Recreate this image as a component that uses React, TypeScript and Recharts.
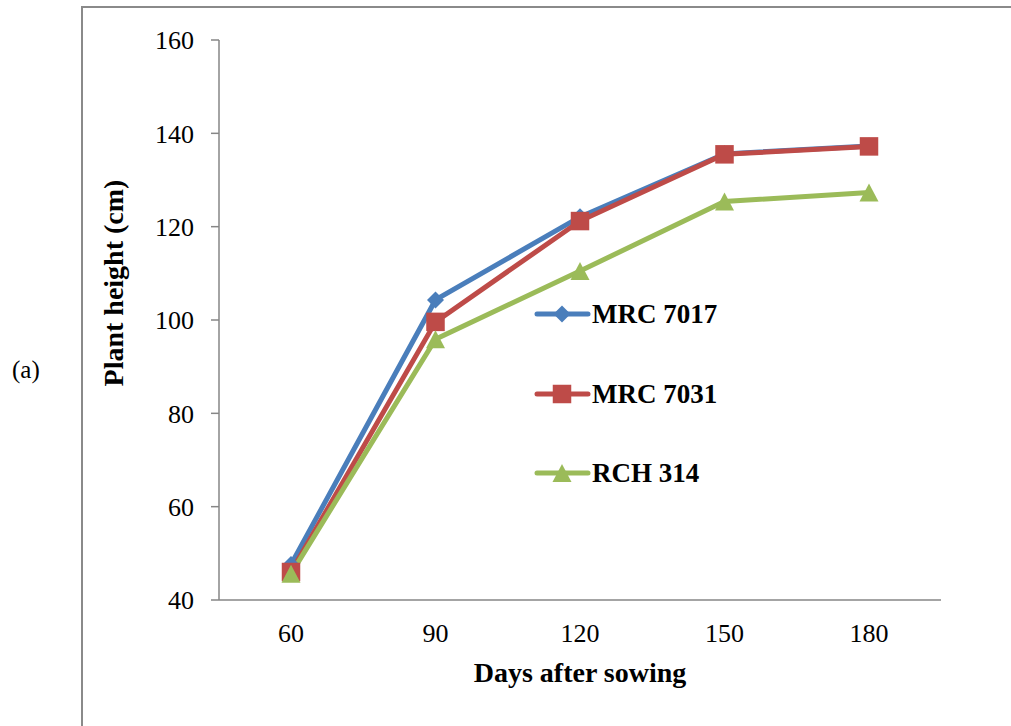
import React from 'react';
import { LineChart, Line, XAxis, YAxis, Legend, Label } from 'recharts';

// Plant height (cm) of three cotton hybrids by days after sowing
const categories = ['60', '90', '120', '150', '180'];
const mrc7017 = [47.6, 104.3, 122.1, 135.6, 137.3];
const mrc7031 = [46.0, 99.6, 121.2, 135.5, 137.2];
const rch314 = [45.6, 95.9, 110.5, 125.4, 127.3];
const yTicks = [40, 60, 80, 100, 120, 140, 160];

const seriesNames = ['MRC 7017', 'MRC 7031', 'RCH 314'];
const seriesKeys = ['mrc7017', 'mrc7031', 'rch314'];
const seriesColors = ['#4A7EBB', '#BE4B48', '#9BBB59'];

const data = categories.map((day, i) => ({
  day,
  mrc7017: mrc7017[i],
  mrc7031: mrc7031[i],
  rch314: rch314[i],
}));

const FONT = '"Liberation Serif", "Times New Roman", Times, serif';
const AXIS_GREY = '#868686';

type MarkerKind = 'diamond' | 'square' | 'triangle';
const markerKinds: MarkerKind[] = ['diamond', 'square', 'triangle'];

function Marker({ kind, cx, cy, color }: { kind: MarkerKind; cx: number; cy: number; color: string }) {
  if (kind === 'diamond') {
    const r = 8.5;
    return (
      <polygon
        points={`${cx},${cy - r} ${cx + r},${cy} ${cx},${cy + r} ${cx - r},${cy}`}
        fill={color}
      />
    );
  }
  if (kind === 'square') {
    const s = 18.5;
    return <rect x={cx - s / 2} y={cy - s / 2} width={s} height={s} fill={color} />;
  }
  const w = 19;
  const h = 18;
  return (
    <polygon
      points={`${cx},${cy - h / 2} ${cx + w / 2},${cy + h / 2} ${cx - w / 2},${cy + h / 2}`}
      fill={color}
    />
  );
}

function makeDot(kind: MarkerKind, color: string) {
  return (props: any) => {
    const { cx, cy, index } = props;
    if (cx == null || cy == null) return <g key={`d-${kind}-${index}`} />;
    return (
      <g key={`d-${kind}-${index}`}>
        <Marker kind={kind} cx={cx} cy={cy} color={color} />
      </g>
    );
  };
}

function LegendBox() {
  const rows = [24, 104, 183];
  return (
    <svg width={220} height={200} style={{ overflow: 'visible' }}>
      {seriesNames.map((name, i) => (
        <g key={name}>
          <line
            x1={7}
            x2={58}
            y1={rows[i]}
            y2={rows[i]}
            stroke={seriesColors[i]}
            strokeWidth={5}
            strokeLinecap="round"
          />
          <Marker kind={markerKinds[i]} cx={32} cy={rows[i]} color={seriesColors[i]} />
          <text
            x={62}
            y={rows[i] + 9}
            fontFamily={FONT}
            fontSize={27}
            fontWeight="bold"
            fill="#000"
          >
            {name}
          </text>
        </g>
      ))}
    </svg>
  );
}

export default function App() {
  return (
    <div
      style={{
        position: 'absolute',
        left: 0,
        top: 0,
        width: 1011,
        height: 726,
        background: '#fff',
        fontFamily: FONT,
      }}
    >
      {/* cell border */}
      <div
        style={{
          position: 'absolute',
          left: 81,
          top: 6,
          width: 1011 - 81,
          height: 726 - 6,
          borderLeft: '2px solid #8a8a8a',
          borderTop: '2px solid #8a8a8a',
          boxSizing: 'border-box',
        }}
      />
      <div
        style={{
          position: 'absolute',
          left: 12,
          top: 357,
          fontSize: 25,
          lineHeight: '25px',
          fontFamily: FONT,
          color: '#000',
        }}
      >
        (a)
      </div>
      <div style={{ position: 'absolute', left: 0, top: 0 }}>
        <LineChart
          width={1011}
          height={726}
          data={data}
          margin={{ top: 40, right: 70, bottom: 96, left: 159 }}
        >
          <XAxis
            dataKey="day"
            type="category"
            height={30}
            padding={{ left: 72, right: 72 }}
            axisLine={{ stroke: AXIS_GREY, strokeWidth: 1.5 }}
            tickLine={false}
            tickSize={0}
            tickMargin={24}
            tick={{ fill: '#000', fontSize: 26, fontFamily: FONT }}
            interval={0}
          >
            <Label
              content={() => (
                <text
                  x={580}
                  y={682}
                  textAnchor="middle"
                  fontFamily={FONT}
                  fontSize={28}
                  fontWeight="bold"
                  fill="#000"
                >
                  Days after sowing
                </text>
              )}
            />
          </XAxis>
          <YAxis
            type="number"
            width={60}
            domain={[40, 160]}
            ticks={yTicks}
            interval={0}
            axisLine={{ stroke: AXIS_GREY, strokeWidth: 1.5 }}
            tickLine={{ stroke: AXIS_GREY, strokeWidth: 1.5 }}
            tickSize={8}
            tickMargin={17}
            tick={{ fill: '#000', fontSize: 26, fontFamily: FONT }}
          >
            <Label
              content={() => (
                <text
                  x={123}
                  y={283}
                  transform="rotate(-90 123 283)"
                  textAnchor="middle"
                  fontFamily={FONT}
                  fontSize={28}
                  fontWeight="bold"
                  fill="#000"
                >
                  Plant height (cm)
                </text>
              )}
            />
          </YAxis>
          <Legend
            verticalAlign="middle"
            layout="horizontal"
            content={() => <LegendBox />}
            wrapperStyle={{ position: 'absolute', left: 530, top: 290, width: 220, height: 200 }}
          />
          {seriesKeys.map((key, i) => (
            <Line
              key={key}
              type="linear"
              dataKey={key}
              name={seriesNames[i]}
              stroke={seriesColors[i]}
              strokeWidth={5}
              dot={makeDot(markerKinds[i], seriesColors[i])}
              activeDot={false}
              isAnimationActive={false}
            />
          ))}
        </LineChart>
      </div>
    </div>
  );
}
